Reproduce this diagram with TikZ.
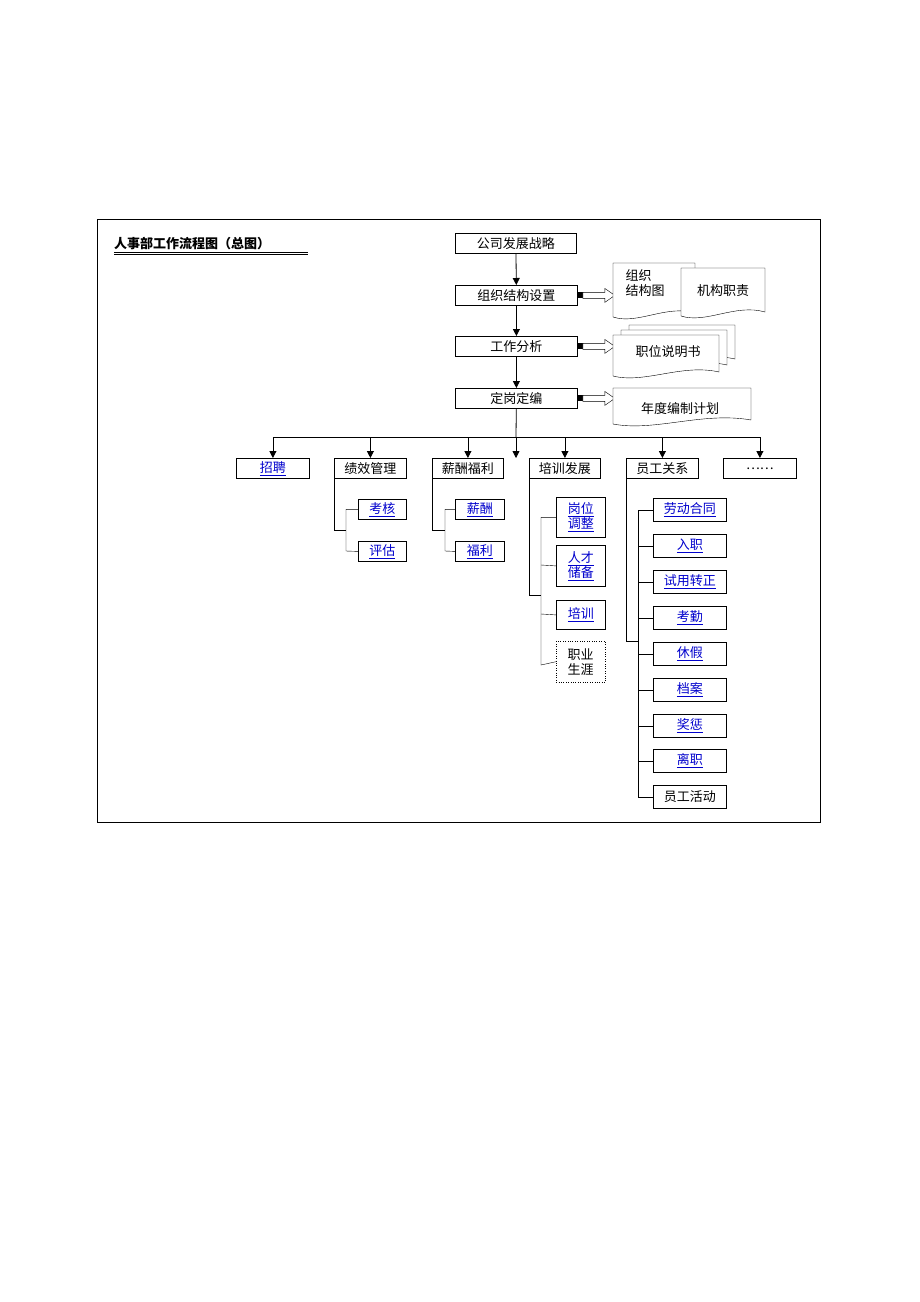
\documentclass[tikz,border=0pt]{standalone}
\usepackage{fontspec}
\newfontfamily\cjk{Noto Sans CJK SC}
\usetikzlibrary{calc, arrows.meta}

\tikzset{
  box/.style={draw, thick, minimum height=20pt, inner sep=1pt, font=\cjk\fontsize{13}{15}\selectfont, anchor=north west},
  link/.style={box, text=blue!80!black},
  arr/.style={thick, -{Triangle[length=7pt,width=7pt]}},
  fat/.style={draw, fill=white, thin},
}
\newcommand{\lk}[1]{\underline{#1}}
% document shape with wavy bottom
\newcommand{\docshape}[4]{%
  \draw[fill=white] (#1,#2) -- (#3,#2) -- (#3,#4-4) .. controls ($(#3,#4-4)!0.35!(#1,#4)+(0,-10)$) and ($(#3,#4)!0.7!(#1,#4)+(0,8)$) .. (#1,#4) -- cycle;}

\begin{document}
\begin{tikzpicture}[x=1pt, y=-1pt]
\useasboundingbox (0,0) rectangle (920,1302);

\draw (97,219) rectangle (820,822);

\node[anchor=west, font=\cjk\bfseries\fontsize{13}{15}\selectfont, inner sep=0] (title) at (114,244) {人事部工作流程图（总图）};
\draw (114,252) -- (308,252);
\draw (114,254.5) -- (308,254.5);

% main chain
\node[box, minimum width=121pt] (strat) at (455,233) {公司发展战略};
\node[box, minimum width=122pt] (org) at (455,285) {组织结构设置};
\node[box, minimum width=122pt] (job) at (455,336) {工作分析};
\node[box, minimum width=122pt] (post) at (455,388) {定岗定编};

\draw[arr] (strat) -- (org);
\draw[arr] (org) -- (job);
\draw[arr] (job) -- (post);

% fat arrows to documents
\foreach \n in {org, job, post}{
  \fill (\n.east) ++(0,-3) rectangle ++(5,6);
  \draw[fat] ($(\n.east)+(5,-3)$) -- ++(22,0) -- ++(0,-4) -- ++(10,7) -- ++(-10,7) -- ++(0,-4) -- ++(-22,0) -- cycle;
}

% documents
\docshape{613}{263}{695}{317}
\node[font=\cjk\fontsize{13}{15}\selectfont, align=left, anchor=north west] (orgchart) at (622,266) {组织\\结构图};
\docshape{681}{268}{765}{316}
\node[font=\cjk\fontsize{13}{15}\selectfont] (duty) at (723,291) {机构职责};
\docshape{629}{325}{735}{363}
\docshape{621}{330}{727}{369}
\docshape{613}{335}{719}{376}
\node[font=\cjk\fontsize{13}{15}\selectfont] (jd) at (668,352) {职位说明书};
\docshape{613}{388}{751}{424}
\node[font=\cjk\fontsize{13}{15}\selectfont] (plan) at (680,409) {年度编制计划};

% second row
\node[link, minimum width=73pt] (hire) at (236,458) {\lk{招聘}};
\node[box, minimum width=72pt] (perf) at (334,458) {绩效管理};
\node[box, minimum width=71pt] (pay) at (432,458) {薪酬福利};
\node[box, minimum width=71pt] (train) at (529,458) {培训发展};
\node[box, minimum width=72pt] (rel) at (626,458) {员工关系};
\node[box, minimum width=73pt] (more) at (723,458) {……};

\coordinate (bus) at (516,437);
\draw[thick] (post) -- (bus);
\draw[thick] (hire.north |- bus) -- (more.north |- bus);
\draw[arr] (bus) -- ++(0,21);
\foreach \n in {hire, perf, pay, train, rel, more}
  \draw[arr] (\n.north |- bus) -- (\n.north);

% performance
\node[link, minimum width=48pt] (exam) at (358,499) {\lk{考核}};
\node[link, minimum width=48pt] (eval) at (358,541) {\lk{评估}};
\draw (perf.south west) |- (346,530);
\draw (exam.west) -| (346,551) -- (eval.west);

% pay
\node[link, minimum width=49pt] (salary) at (455,499) {\lk{薪酬}};
\node[link, minimum width=49pt] (welfare) at (455,541) {\lk{福利}};
\draw (pay.south west) |- (445,530);
\draw (salary.west) -| (445,551) -- (welfare.west);

% training
\node[link, minimum width=49pt, minimum height=40pt, align=center] (adjust) at (556,497) {\lk{岗位}\\\lk{调整}};
\node[link, minimum width=49pt, minimum height=41pt, align=center] (talent) at (556,545) {\lk{人才}\\\lk{储备}};
\node[link, minimum width=49pt, minimum height=29pt] (course) at (556,600) {\lk{培训}};
\node[box, thin, dotted, minimum width=49pt, minimum height=41pt, align=center] (career) at (556,641) {职业\\生涯};
\draw (train.south west) |- (541,595);
\draw (adjust.west) -| (541,665) -- (career.west);
\draw (541,565) -- (talent.west);
\draw (541,614) -- (course.west);

% employee relations
\foreach \y/\t/\nm in {498/劳动合同/contract, 534/入职/entry, 570/试用转正/regular, 606/考勤/attend, 642/休假/leave, 678/档案/file, 714/奖惩/reward, 749/离职/quit}
  \node[link, minimum width=73pt, minimum height=23pt] (\nm) at (653,\y) {\lk{\t}};
\node[box, minimum width=73pt, minimum height=23pt] (activity) at (653,785) {员工活动};
\draw (rel.south west) |- (638,641);
\draw (contract.west) -| (activity.west -| 638,0) -- (activity.west);
\foreach \nm in {entry, regular, attend, leave, file, reward, quit}
  \draw (\nm.west) -- (\nm.west -| 638,0);

\end{tikzpicture}
\end{document}
